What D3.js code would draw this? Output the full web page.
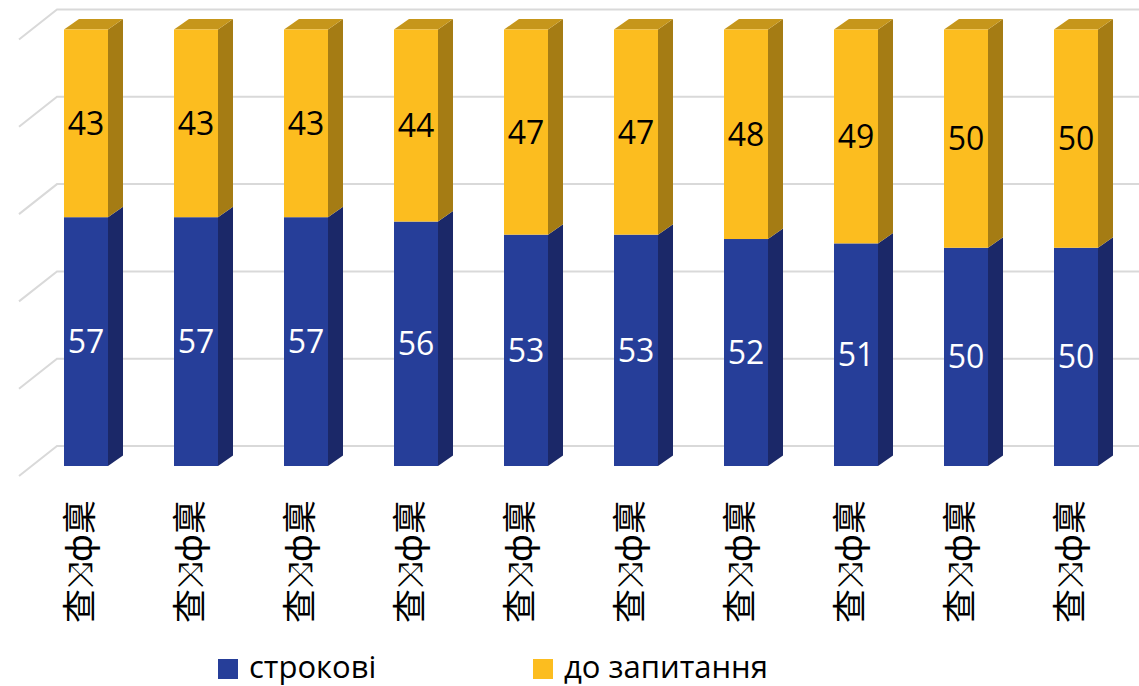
<!DOCTYPE html>
<html>
<head>
<meta charset="utf-8">
<script src="https://cdn.jsdelivr.net/npm/d3@7"></script>
<style>
  body { margin: 0; background: #fff; }
</style>
</head>
<body>
<div id="chart"></div>
<script>
// chart data
var categories = ["查⤨ф稟", "查⤨ф稟", "查⤨ф稟", "查⤨ф稟", "查⤨ф稟",
                  "查⤨ф稟", "查⤨ф稟", "查⤨ф稟", "查⤨ф稟", "查⤨ф稟"];
var strokovi = [57, 57, 57, 56, 53, 53, 52, 51, 50, 50];
var doZapytannia = [43, 43, 43, 44, 47, 47, 48, 49, 50, 50];
var seriesNames = ["строкові", "до запитання"];
var yTicks = [0, 20, 40, 60, 80, 100];

var width = 1139, height = 686;
var depthX = 15, depthY = -10.5;   // bar depth
var font_size = 32;

var colors = {
  front: ["#263e99", "#fcbd1f"],
  side:  ["#1b2868", "#a57c14"],
  top:   ["#1f3080", "#c6961b"]
};

var svg = d3.select("#chart")
  .append("svg")
    .attr("width", width)
    .attr("height", height);

var x = d3.scaleBand()
  .domain(d3.range(categories.length))
  .range([31, 1131])
  .paddingInner(0.6)
  .paddingOuter(0.3);

var y = d3.scaleLinear()
  .domain([0, 100])
  .range([466, 29.5]);

// grid (back wall + left wall diagonals)
var grid = svg.append("g")
  .attr("stroke", "#d9d9d9")
  .attr("stroke-width", 2)
  .attr("fill", "none");

grid.selectAll("path")
  .data(yTicks)
  .join("path")
    .attr("d", function(d) {
      return "M19," + (y(d) + 10) + "L57," + (y(d) - 20) + "L" + width + "," + (y(d) - 20);
    });

// stacked data
var table = categories.map(function(c, i) {
  return { i: i, a: strokovi[i], b: doZapytannia[i] };
});
var stack = d3.stack().keys(["a", "b"])(table);

var bars = svg.append("g");

stack.forEach(function(layer, k) {
  var g = bars.append("g");
  var isTop = k === stack.length - 1;

  // side face
  g.selectAll("path.side")
    .data(layer)
    .join("path")
      .attr("class", "side")
      .attr("fill", colors.side[k])
      .attr("d", function(d) {
        var x1 = x(d.data.i) + x.bandwidth();
        var yt = y(d[1]), yb = y(d[0]);
        return "M" + x1 + "," + yt + "L" + (x1 + depthX) + "," + (yt + depthY) +
               "L" + (x1 + depthX) + "," + (yb + depthY) + "L" + x1 + "," + yb + "Z";
      });

  // top face
  if (isTop) {
    g.selectAll("path.top")
      .data(layer)
      .join("path")
        .attr("class", "top")
        .attr("fill", colors.top[k])
        .attr("d", function(d) {
          var x0 = x(d.data.i), x1 = x0 + x.bandwidth();
          var yt = y(d[1]);
          return "M" + x0 + "," + yt + "L" + (x0 + depthX) + "," + (yt + depthY) +
                 "L" + (x1 + depthX) + "," + (yt + depthY) + "L" + x1 + "," + yt + "Z";
        });
  }

  // front face
  g.selectAll("rect")
    .data(layer)
    .join("rect")
      .attr("x", function(d) { return x(d.data.i); })
      .attr("y", function(d) { return y(d[1]); })
      .attr("width", x.bandwidth())
      .attr("height", function(d) { return y(d[0]) - y(d[1]); })
      .attr("fill", colors.front[k]);

  // value labels
  g.selectAll("text")
    .data(layer)
    .join("text")
      .attr("x", function(d) { return x(d.data.i) + x.bandwidth() / 2; })
      .attr("y", function(d) { return (y(d[0]) + y(d[1])) / 2; })
      .attr("dy", "0.36em")
      .attr("text-anchor", "middle")
      .attr("font-family", "'Open Sans', sans-serif")
      .attr("font-size", font_size)
      .attr("fill", k === 0 ? "#ffffff" : "#000000")
      .text(function(d) { return d[1] - d[0]; });
});

// category labels, rotated
svg.append("g")
  .selectAll("text")
  .data(categories)
  .join("text")
    .attr("transform", function(d, i) {
      return "translate(" + (x(i) + x.bandwidth() / 2 - 9) + ",500)rotate(-90)";
    })
    .attr("text-anchor", "end")
    .attr("dominant-baseline", "central")
    .attr("font-family", "'Noto Sans CJK SC', 'DejaVu Sans', sans-serif")
    .attr("font-size", 34)
    .attr("fill", "#000")
    .text(function(d) { return d; });

// legend
var legendX = [218, 533];
var legend = svg.append("g")
  .selectAll("g")
  .data(seriesNames)
  .join("g")
    .attr("transform", function(d, i) { return "translate(" + legendX[i] + ",659)"; });

legend.append("rect")
  .attr("width", 20)
  .attr("height", 20)
  .attr("fill", function(d, i) { return colors.front[i]; });

legend.append("text")
  .attr("x", 31)
  .attr("y", 19)
  .attr("font-family", "'Open Sans', sans-serif")
  .attr("font-size", 31)
  .attr("fill", "#000")
  .text(function(d) { return d; });
</script>
</body>
</html>
